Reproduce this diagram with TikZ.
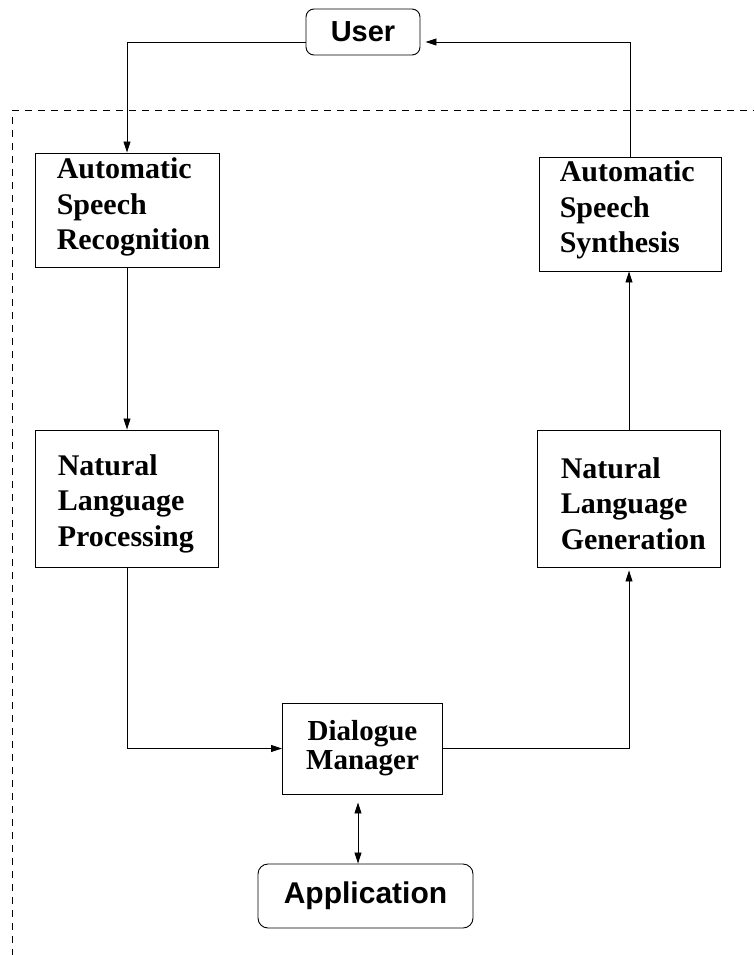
\documentclass[tikz,border=0pt]{standalone}
\usepackage{fontspec}
\setmainfont{Liberation Serif}
\setsansfont{Liberation Sans}
\usetikzlibrary{arrows.meta,calc}
\begin{document}
\begin{tikzpicture}[x=1pt,y=-1pt,
  procbox/.style={draw, line width=0.9pt, inner sep=0pt},
  lbl/.style={font=\bfseries\fontsize{30}{35.5}\selectfont, align=left, inner sep=0pt},
  ubox/.style={draw, line width=0.9pt, inner sep=0pt, font=\sffamily\bfseries\fontsize{29}{34}\selectfont},
  conn/.style={line width=0.8pt},
  arr/.style={conn, -{Triangle[length=11pt,width=7pt]}},
  darr/.style={conn, {Triangle[length=11pt,width=7pt]}-{Triangle[length=11pt,width=7pt]}},
  dashline/.style={line width=0.8pt, dash pattern=on 7pt off 6pt},
]
\useasboundingbox (0,0) rectangle (754,955);
% nodes
\node[ubox, rounded corners=8pt, minimum width=114pt, minimum height=46pt] (user) at (363,32) {User};
\node[procbox, minimum width=184pt, minimum height=114pt] (asr) at (127,210) {};
\node[lbl, anchor=west] (asrt) at ($(asr.west)+(22,-3)$) {Automatic\\Speech\\Recognition};
\node[procbox, minimum width=182pt, minimum height=114pt] (ass) at (630,214) {};
\node[lbl, anchor=west] (asst) at ($(ass.west)+(21,-4)$) {Automatic\\Speech\\Synthesis};
\node[procbox, minimum width=183pt, minimum height=137pt] (nlp) at (127,498.5) {};
\node[lbl, anchor=west] (nlpt) at ($(nlp.west)+(22.5,5)$) {Natural\\Language\\Processing};
\node[procbox, minimum width=183pt, minimum height=137pt] (nlg) at (629,498.5) {};
\node[lbl, anchor=west] (nlgt) at ($(nlg.west)+(23.5,5)$) {Natural\\Language\\Generation};
\node[procbox, minimum width=160pt, minimum height=91pt, align=center,
      font=\bfseries\fontsize{29}{29}\selectfont] (dm) at (362.5,748.5) {Dialogue\\Manager};
\node[ubox, rounded corners=10pt, minimum width=215pt, minimum height=64pt,
      font=\sffamily\bfseries\fontsize{30}{35}\selectfont] (app) at (365.5,896) {Application};
% dashed boundary
\coordinate (dh1) at (12,110);
\coordinate (dh2) at (754,110);
\coordinate (dv1) at (12,117);
\coordinate (dv2) at (12,955);
\draw[dashline] (dh1) -- (dh2);
\draw[dashline] (dv1) -- (dv2);
% connectors
\draw[arr] ([yshift=-10pt]user.west) -| (asr.north);
\draw[arr] (ass.north) |- ([xshift=5pt,yshift=-10pt]user.east);
\draw[arr] (asr.south) -- (nlp.north);
\draw[arr] (nlp.south) |- (dm.west);
\draw[arr] (dm.east) -| ([yshift=-3pt]nlg.south);
\draw[arr] (nlg.north) -- (nlg.north |- ass.south);
\draw[darr] ([xshift=-4.5pt,yshift=-8pt]dm.south) -- ([xshift=-4.5pt]dm.south |- app.north);
\end{tikzpicture}
\end{document}
